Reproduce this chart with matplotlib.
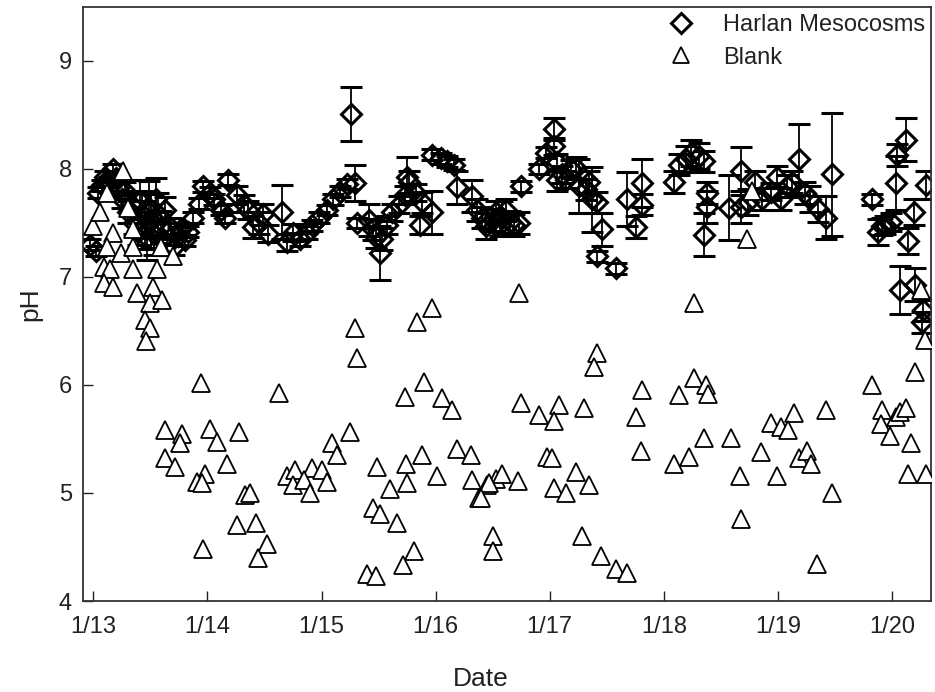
import numpy as np
import matplotlib.pyplot as plt
from matplotlib.lines import Line2D

plt.rcParams['font.family'] = ['Liberation Sans', 'DejaVu Sans']

# Harlan Mesocosms: days since 1/13, pH, error (sd)
harlan_day = [-0.03, 0.02, 0.04, 0.08, 0.10, 0.14, 0.17, 0.20, 0.22, 0.25, 0.28, 0.30, 0.33, 0.36,
              0.39, 0.41, 0.43, 0.45, 0.47, 0.49, 0.51, 0.53, 0.55, 0.57, 0.59, 0.61, 0.63, 0.65,
              0.68, 0.71, 0.74, 0.77, 0.80, 0.83, 0.87, 0.93, 0.96, 1.02, 1.06, 1.12, 1.18, 1.15,
              1.26, 1.32, 1.36, 1.40, 1.45, 1.49, 1.53,
              1.65, 1.70, 1.75, 1.81, 1.87, 1.92, 1.98, 2.05, 2.10, 2.16, 2.22,
              2.26, 2.29, 2.31, 2.42, 2.48, 2.51, 2.45, 2.53, 2.57, 2.62, 2.68, 2.73, 2.75, 2.77,
              2.83, 2.88, 2.86, 2.97,
              2.97, 3.05, 3.10, 3.16, 3.19, 3.32, 3.36, 3.41, 3.44, 3.50, 3.53, 3.56, 3.58, 3.62,
              3.65, 3.69, 3.73, 3.75,
              3.91, 3.97, 4.04, 4.04, 4.06, 4.06, 4.11, 4.14, 4.19, 4.23, 4.26, 4.32, 4.34, 4.37,
              4.41, 4.46, 4.41, 4.58,
              4.68, 4.81, 4.81, 4.76,
              5.09, 5.13, 5.19, 5.24, 5.31, 5.35, 5.38, 5.38, 5.35,
              5.57, 5.68, 5.68, 5.74, 5.80, 5.86, 5.94, 5.99, 6.03, 6.08, 6.12, 6.18, 6.24, 6.28,
              6.35, 6.42, 6.47,
              6.82, 6.88, 6.91, 6.94, 6.99, 7.03, 7.04, 7.12, 7.19, 7.14, 7.30, 7.07, 7.20, 7.27, 7.26]
harlan_ph = [7.30, 7.24, 7.78, 7.85, 7.93, 7.88, 8.00, 7.92, 7.82, 7.72, 7.80, 7.60, 7.68, 7.50,
             7.42, 7.70, 7.58, 7.48, 7.36, 7.64, 7.52, 7.40, 7.72, 7.58, 7.46, 7.35, 7.62, 7.30,
             7.45, 7.28, 7.38, 7.44, 7.34, 7.42, 7.55, 7.68, 7.84, 7.78, 7.72, 7.62, 7.90, 7.55,
             7.76, 7.68, 7.62, 7.46, 7.50, 7.58, 7.40,
             7.60, 7.32, 7.41, 7.35, 7.41, 7.48, 7.55, 7.62, 7.72, 7.79, 7.86,
             8.51, 7.87, 7.50, 7.53, 7.37, 7.22, 7.44, 7.35, 7.48, 7.60, 7.67, 7.76, 7.93, 7.88,
             7.78, 7.69, 7.48, 7.60,
             8.13, 8.10, 8.07, 8.04, 7.83, 7.75, 7.62, 7.55, 7.47, 7.53, 7.60, 7.48, 7.55, 7.62,
             7.51, 7.48, 7.50, 7.84,
             8.00, 8.15, 8.37, 8.21, 8.06, 7.90, 7.95, 7.90, 8.00, 8.01, 7.84, 7.81, 7.88, 7.72,
             7.69, 7.44, 7.19, 7.08,
             7.72, 7.87, 7.67, 7.46,
             7.88, 8.04, 8.09, 8.15, 8.12, 8.07, 7.78, 7.65, 7.39,
             7.64, 7.98, 7.65, 7.69, 7.88, 7.72, 7.79, 7.93, 7.72, 7.84, 7.88, 8.09, 7.78, 7.72,
             7.63, 7.55, 7.95,
             7.72, 7.42, 7.47, 7.48, 7.51, 7.87, 8.13, 8.27, 7.60, 7.33, 7.85, 6.88, 6.93, 6.69, 6.58]
harlan_err = [0.05, 0.05, 0.05, 0.05, 0.05, 0.05, 0.05, 0.05, 0.06, 0.08, 0.08, 0.10, 0.10, 0.10,
              0.12, 0.20, 0.22, 0.22, 0.20, 0.25, 0.25, 0.20, 0.20, 0.20, 0.15, 0.15, 0.12, 0.10,
              0.10, 0.08, 0.08, 0.06, 0.05, 0.05, 0.05, 0.05, 0.05, 0.05, 0.05, 0.05, 0.05, 0.05,
              0.08, 0.08, 0.08, 0.10, 0.10, 0.10, 0.08,
              0.25, 0.08, 0.08, 0.06, 0.06, 0.05, 0.05, 0.05, 0.05, 0.05, 0.05,
              0.25, 0.17, 0.05, 0.15, 0.10, 0.25, 0.10, 0.10, 0.08, 0.08, 0.08, 0.08, 0.18, 0.10,
              0.08, 0.10, 0.08, 0.20,
              0.05, 0.05, 0.05, 0.05, 0.15, 0.15, 0.10, 0.10, 0.12, 0.10, 0.10, 0.10, 0.15, 0.10,
              0.10, 0.10, 0.10, 0.05,
              0.05, 0.05, 0.10, 0.08, 0.08, 0.10, 0.08, 0.08, 0.08, 0.10, 0.25, 0.10, 0.10, 0.30,
              0.10, 0.15, 0.05, 0.05,
              0.25, 0.22, 0.10, 0.10,
              0.10, 0.10, 0.12, 0.12, 0.12, 0.10, 0.10, 0.15, 0.20,
              0.30, 0.22, 0.15, 0.12, 0.10, 0.10, 0.08, 0.10, 0.10, 0.10, 0.10, 0.33, 0.10, 0.12,
              0.12, 0.20, 0.57,
              0.05, 0.12, 0.08, 0.08, 0.08, 0.25, 0.10, 0.20, 0.12, 0.12, 0.13, 0.22, 0.15, 0.10, 0.10]

# Blank: days since 1/13, pH
blank_day = [0.00, 0.06, 0.12, 0.26, 0.30, 0.17, 0.35, 0.12, 0.24, 0.35, 0.09, 0.15, 0.09, 0.17,
             0.35, 0.56, 0.59, 0.38, 0.52, 0.50, 0.45, 0.50, 0.46, 0.60, 0.70,
             0.94, 1.63, 0.63, 0.78, 0.76, 1.02, 1.08, 1.28, 0.63, 0.72, 1.17, 0.98, 0.91, 0.95,
             1.33, 1.37, 1.26, 1.43, 1.52, 1.44, 0.96, 1.70, 1.77, 1.75,
             2.29, 2.31, 2.97, 2.84, 2.90, 2.73, 3.06, 3.14, 2.25, 2.09, 2.14, 1.92, 2.00, 1.85,
             1.90, 2.05, 2.49, 2.74, 2.88, 3.01, 2.60, 2.75, 3.19, 3.31, 3.32, 3.38, 3.45, 3.53,
             2.45, 2.51, 2.66, 2.81, 2.71, 2.40, 2.48, 3.50, 3.50,
             3.73, 4.41, 4.39, 5.26, 3.75, 3.91, 4.08, 4.04, 4.30, 4.81, 4.76, 5.13, 5.26, 4.80,
             3.98, 4.02, 4.23, 4.04, 4.14, 4.34, 3.58, 3.72, 3.47, 3.40, 4.28, 4.45, 4.58, 4.68,
             5.09, 5.22,
             5.37, 5.39, 5.35, 5.59, 5.67, 5.68, 5.85, 5.94, 6.03, 6.14, 6.09, 5.99, 6.18, 6.25,
             6.29, 6.42, 6.47, 6.34, 6.82, 6.91, 6.90, 6.98, 7.03, 7.07, 7.12, 7.17, 7.14, 7.30,
             7.20, 7.29, 7.25, 5.73, 5.77]
blank_ph = [7.47, 7.60, 7.78, 7.98, 7.64, 7.41, 7.44, 7.28, 7.22, 7.28, 7.09, 7.07, 6.94, 6.91,
            7.07, 7.07, 7.28, 6.85, 6.91, 6.76, 6.60, 6.53, 6.41, 6.79, 7.19,
            6.02, 5.93, 5.58, 5.55, 5.46, 5.59, 5.47, 5.56, 5.32, 5.24, 5.27, 5.18, 5.10, 5.09,
            4.98, 5.00, 4.70, 4.72, 4.53, 4.40, 4.48, 5.16, 5.21, 5.07,
            6.53, 6.25, 6.71, 6.58, 6.03, 5.89, 5.88, 5.77, 5.56, 5.46, 5.35, 5.23, 5.21, 5.12,
            5.00, 5.10, 5.24, 5.27, 5.35, 5.16, 5.04, 5.09, 5.41, 5.35, 5.12, 4.95, 5.07, 5.13,
            4.86, 4.81, 4.72, 4.46, 4.33, 4.25, 4.23, 4.60, 4.46,
            6.85, 6.30, 6.17, 6.76, 5.83, 5.72, 5.81, 5.67, 5.79, 5.95, 5.70, 5.91, 6.06, 5.39,
            5.33, 5.32, 5.19, 5.05, 5.00, 5.07, 5.18, 5.11, 5.09, 4.95, 4.60, 4.42, 4.30, 4.26,
            5.27, 5.33,
            6.00, 5.92, 5.51, 5.51, 5.16, 4.76, 5.38, 5.65, 5.61, 5.74, 5.58, 5.16, 5.32, 5.39,
            5.27, 5.77, 5.00, 4.34, 6.00, 5.77, 5.64, 5.53, 5.70, 5.75, 5.79, 5.46, 5.18, 5.18,
            6.12, 6.42, 6.88, 7.35, 7.80]

tick_days = [0, 1, 2, 3, 4, 5, 6, 7]
tick_labels = ['1/13', '1/14', '1/15', '1/16', '1/17', '1/18', '1/19', '1/20']

fig = plt.figure(figsize=(9.35, 6.92), dpi=100)
ax = fig.add_axes([0.0888, 0.1315, 0.9068, 0.8585])

ax.errorbar(harlan_day, harlan_ph, yerr=harlan_err, fmt='D', ms=10, mfc='none', mec='black',
            mew=2.2, ecolor='black', elinewidth=1.3, capsize=8, capthick=1.3, zorder=2)
ax.plot(blank_day, blank_ph, '^', ms=13, mfc='white', mec='black', mew=1.3,
        linestyle='none', zorder=3)

ax.set_xlim(-0.09, 7.34)
ax.set_ylim(4, 9.5)
ax.set_xticks(tick_days, tick_labels)
ax.set_yticks([4, 5, 6, 7, 8, 9])
ax.tick_params(direction='in', length=7, width=1, labelsize=17, colors='#222222')
ax.tick_params(axis='x', pad=11)
ax.tick_params(axis='y', pad=8)
for s in ax.spines.values():
    s.set_linewidth(1.3)
    s.set_color('#333333')

ax.set_xlabel('Date', fontsize=19, color='#222222', labelpad=21, x=0.469)
ax.set_ylabel('pH', fontsize=19, color='#222222', labelpad=12)

handles = [Line2D([], [], marker='D', ls='none', ms=10, mfc='none', mec='black', mew=2.2),
           Line2D([], [], marker='^', ls='none', ms=11, mfc='white', mec='black', mew=1.3)]
ax.legend(handles, ['Harlan Mesocosms', 'Blank'], loc='upper right', frameon=False,
          fontsize=17, handletextpad=1.3, borderaxespad=0.0, borderpad=0.05,
          labelspacing=0.45, handlelength=1.0, bbox_to_anchor=(0.995, 0.99),
          labelcolor='#222222')

fig.savefig('out.png', dpi=100)
